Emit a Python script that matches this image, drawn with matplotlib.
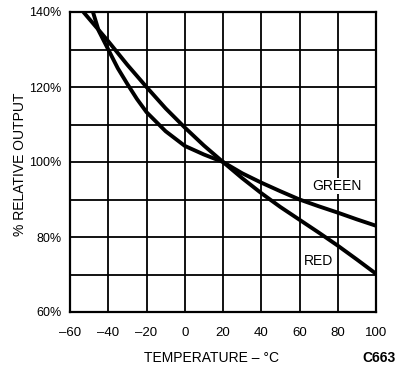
import matplotlib
matplotlib.use("Agg")
import matplotlib.pyplot as plt
from matplotlib.ticker import MultipleLocator

plt.rcParams['font.family'] = ['Liberation Sans', 'DejaVu Sans']

# Data
green_t = [-48, -45, -40, -35, -30, -25, -20, -10, 0, 10, 20, 30, 40, 50, 60, 70, 80, 90, 100]
green_v = [140, 135, 130, 125, 120.8, 116.8, 113.3, 108.2, 104.3, 102, 100, 97, 94.5, 92.2, 90, 88.2, 86.5, 84.7, 83]
red_t = [-53, -45, -40, -30, -20, -10, 0, 10, 20, 30, 40, 50, 60, 70, 80, 90, 100]
red_v = [140, 135.2, 132.2, 125.9, 120, 114.3, 109.2, 104.4, 100, 95.7, 91.7, 88, 84.6, 81.2, 77.7, 74, 70.2]

x_ticks = [-60, -40, -20, 0, 20, 40, 60, 80, 100]
x_labels = ["\u201360", "\u201340", "\u201320", "0", "20", "40", "60", "80", "100"]
y_ticks = [60, 80, 100, 120, 140]
y_labels = ["60%", "80%", "100%", "120%", "140%"]

fig = plt.figure(figsize=(3.98, 3.70), dpi=100)
ax = fig.add_axes([70/398, 1-312/370, 306/398, 300/370])

ax.plot(green_t, green_v, color='black', lw=2.8, solid_capstyle='butt', zorder=3)
ax.plot(red_t, red_v, color='black', lw=2.8, solid_capstyle='butt', zorder=3)

ax.set_xlim(-60, 100)
ax.set_ylim(60, 140)
ax.set_xticks(x_ticks)
ax.set_xticklabels(x_labels)
ax.set_yticks(y_ticks)
ax.set_yticklabels(y_labels)
ax.yaxis.set_minor_locator(MultipleLocator(10))
ax.grid(True, which='major', color='black', lw=1.3)
ax.grid(True, which='minor', axis='y', color='black', lw=1.3)
ax.tick_params(axis='both', which='both', length=0)
ax.tick_params(axis='x', pad=11, labelsize=9.5)
ax.tick_params(axis='y', pad=6, labelsize=9)
for s in ax.spines.values():
    s.set_linewidth(1.6)

ax.text(79.5, 93.6, "GREEN", ha='center', va='center', fontsize=10,
        bbox=dict(facecolor='white', edgecolor='none', pad=1.0), zorder=4)
ax.text(70, 73.6, "RED", ha='center', va='center', fontsize=10, zorder=4)

fig.text(212/398, 1-358/370, "TEMPERATURE \u2013 \u00b0C", ha='center', va='center', fontsize=10)
fig.text(379/398, 1-358/370, "C663", ha='center', va='center', fontsize=10, fontweight='bold')
fig.text(20/398, 1-164/370, "% RELATIVE OUTPUT", ha='center', va='center', rotation=90, fontsize=10)

fig.savefig("out.png", dpi=100)
